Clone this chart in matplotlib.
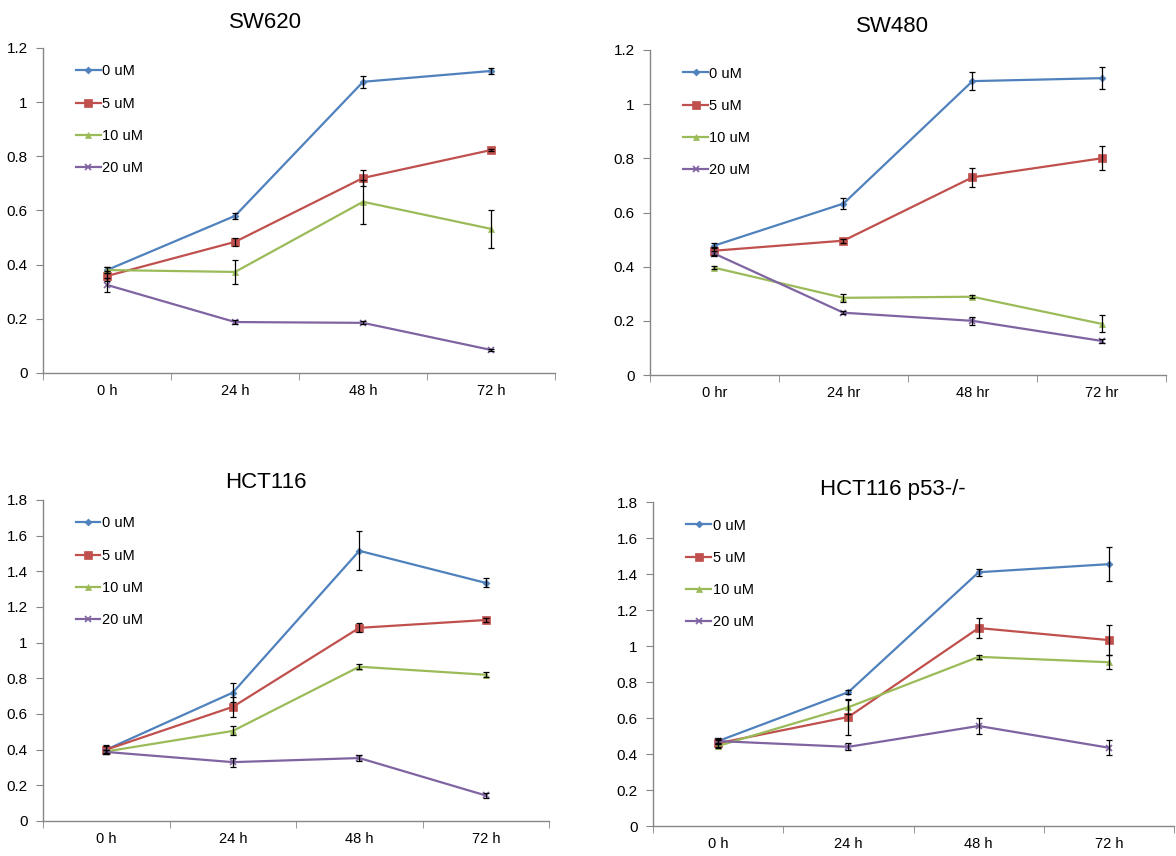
import matplotlib
matplotlib.use('Agg')
import matplotlib.pyplot as plt
from matplotlib.ticker import FuncFormatter, MultipleLocator, FixedLocator

plt.rcParams['font.family'] = ['Liberation Sans', 'DejaVu Sans']

doses = ['0 uM', '5 uM', '10 uM', '20 uM']

# SW620
sw620_x = ['0 h', '24 h', '48 h', '72 h']
sw620_mean = [
    [0.38, 0.58, 1.075, 1.115],
    [0.358, 0.484, 0.72, 0.823],
    [0.38, 0.373, 0.632, 0.532],
    [0.325, 0.188, 0.185, 0.085],
]
sw620_err = [
    [0.01, 0.012, 0.022, 0.012],
    [0.02, 0.015, 0.03, 0.005],
    [0.01, 0.045, 0.082, 0.07],
    [0.025, 0.008, 0.006, 0.005],
]

# SW480
sw480_x = ['0 hr', '24 hr', '48 hr', '72 hr']
sw480_mean = [
    [0.478, 0.633, 1.085, 1.096],
    [0.459, 0.496, 0.73, 0.80],
    [0.396, 0.285, 0.289, 0.189],
    [0.448, 0.23, 0.2, 0.126],
]
sw480_err = [
    [0.01, 0.02, 0.032, 0.04],
    [0.015, 0.007, 0.035, 0.044],
    [0.005, 0.015, 0.005, 0.031],
    [0.01, 0.005, 0.015, 0.007],
]

# HCT116
hct_x = ['0 h', '24 h', '48 h', '72 h']
hct_mean = [
    [0.40, 0.72, 1.515, 1.335],
    [0.40, 0.64, 1.083, 1.127],
    [0.39, 0.505, 0.865, 0.82],
    [0.387, 0.33, 0.353, 0.143],
]
hct_err = [
    [0.02, 0.054, 0.11, 0.025],
    [0.025, 0.056, 0.025, 0.01],
    [0.01, 0.025, 0.015, 0.015],
    [0.01, 0.025, 0.015, 0.015],
]

# HCT116 p53-/-
p53_x = ['0 h', '24 h', '48 h', '72 h']
p53_mean = [
    [0.472, 0.744, 1.41, 1.455],
    [0.46, 0.606, 1.10, 1.033],
    [0.445, 0.66, 0.94, 0.91],
    [0.472, 0.44, 0.556, 0.435],
]
p53_err = [
    [0.015, 0.01, 0.02, 0.093],
    [0.02, 0.1, 0.055, 0.082],
    [0.01, 0.04, 0.01, 0.04],
    [0.01, 0.02, 0.044, 0.042],
]

colors = ['#4F81BD', '#C0504D', '#9BBB59', '#8064A2']
markers = ['D', 's', '^', 'x']
msizes = [3.5, 5.5, 5, 5]

panels = [
    ('SW620', sw620_x, sw620_mean, sw620_err, 1.2, [0.0366, 0.5643, 0.4354, 0.3797], (0.226, 0.974)),
    ('SW480', sw480_x, sw480_mean, sw480_err, 1.2, [0.5527, 0.5619, 0.4388, 0.3797], (0.759, 0.969)),
    ('HCT116', hct_x, hct_mean, hct_err, 1.8, [0.0366, 0.0409, 0.4303, 0.3750], (0.226, 0.436)),
    ('HCT116 p53-/-', p53_x, p53_mean, p53_err, 1.8, [0.5553, 0.0350, 0.4430, 0.3785], (0.759, 0.428)),
]

fig = plt.figure(figsize=(11.76, 8.56), dpi=100)

for title, xl, means, errs, ymax, rect, tpos in panels:
    ax = fig.add_axes(rect)
    xs = list(range(len(xl)))
    for i in range(4):
        ax.errorbar(xs, means[i], yerr=errs[i], fmt='none', ecolor='black',
                    elinewidth=0.9, capsize=2.5, capthick=0.9, zorder=4)
        ax.plot(xs, means[i], color=colors[i], lw=1.6,
                marker=markers[i], ms=msizes[i],
                mew=1.2 if markers[i] == 'x' else 0.5,
                label=doses[i], zorder=3)
    ax.set_xlim(-0.5, 3.5)
    ax.set_ylim(0, ymax)
    ax.yaxis.set_major_locator(MultipleLocator(0.2))
    ax.yaxis.set_major_formatter(FuncFormatter(lambda v, p: '%g' % round(v, 2)))
    ax.set_xticks(xs)
    ax.set_xticklabels(xl)
    ax.xaxis.set_minor_locator(FixedLocator([-0.5, 0.5, 1.5, 2.5, 3.5]))
    ax.tick_params(axis='x', which='major', length=0, pad=8, labelsize=10.5)
    ax.tick_params(axis='x', which='minor', length=5, color='#868686', direction='out')
    ax.tick_params(axis='y', length=5, color='#868686', direction='out', labelsize=11, pad=6)
    for s in ['top', 'right']:
        ax.spines[s].set_visible(False)
    for s in ['left', 'bottom']:
        ax.spines[s].set_color('#868686')
        ax.spines[s].set_linewidth(1.0)
    ax.legend(loc='upper left', bbox_to_anchor=(0.053, 0.967), frameon=False,
              fontsize=10.5, handlelength=1.7, handletextpad=0.1, labelspacing=1.25,
              borderaxespad=0)
    fig.text(tpos[0], tpos[1], title, ha='center', va='center', fontsize=16)

plt.savefig('out.png', dpi=100)
plt.close()
